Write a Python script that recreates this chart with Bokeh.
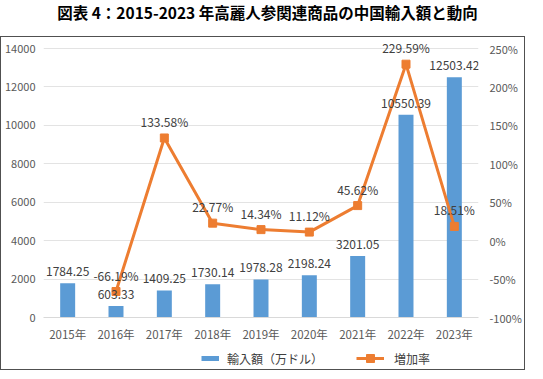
from bokeh.plotting import figure
from bokeh.layouts import column
from bokeh.models import (Range1d, FactorRange, LinearAxis, FixedTicker, PrintfTickFormatter,
                          ColumnDataSource, Legend, LegendItem, Div)
from bokeh.core.properties import value
from bokeh.embed import file_html
from bokeh.resources import INLINE

years = ["2015年", "2016年", "2017年", "2018年", "2019年", "2020年", "2021年", "2022年", "2023年"]
imports = [1784.25, 603.33, 1409.25, 1730.14, 1978.28, 2198.24, 3201.05, 10550.39, 12503.42]
rate_years = years[1:]
rates = [-66.19, 133.58, 22.77, 14.34, 11.12, 45.62, 229.59, 18.51]
left_ticks = [0, 2000, 4000, 6000, 8000, 10000, 12000, 14000]
right_ticks = [-100, -50, 0, 50, 100, 150, 200, 250]
title_text = "図表 4：2015-2023 年高麗人参関連商品の中国輸入額と動向"
legend_labels = ["輸入額（万ドル）", "増加率"]

FONT = "Noto Sans CJK JP"
BLUE = "#5B9BD5"
ORANGE = "#ED7D31"

W, H1, H2 = 523, 308, 24
head_px = 8
left_end = 14000 + head_px * 14000 / 269
right_end = 250 + head_px * 350 / 269

p = figure(width=W, height=H1, x_range=FactorRange(*years), y_range=Range1d(0, left_end),
           output_backend="svg", toolbar_location=None,
           min_border_left=42, min_border_right=46, min_border_top=3, min_border_bottom=28)
p.outline_line_color = None
p.background_fill_color = "white"
p.extra_y_ranges = {"rate": Range1d(-100, right_end)}

bar_src = ColumnDataSource(dict(x=years, top=imports, lab=[f"{v:.2f}" for v in imports]))
line_src = ColumnDataSource(dict(x=rate_years, y=rates, lab=[f"{v:.2f}%" for v in rates]))

p.vbar(x="x", top="top", width=0.31, source=bar_src, color=BLUE, line_color=None)
p.line(x="x", y="y", source=line_src, y_range_name="rate", color=ORANGE, line_width=3)
p.scatter(x="x", y="y", source=line_src, y_range_name="rate", marker="square",
          size=8, color=ORANGE)

p.text(x="x", y="top", text="lab", source=bar_src, text_font=value(FONT), text_font_size="12px",
       text_color="#404040", text_align="center", text_baseline="bottom", y_offset=-7)
p.text(x="x", y="y", text="lab", source=line_src, y_range_name="rate", text_font=value(FONT),
       text_font_size="12px", text_color="#404040", text_align="center", text_baseline="bottom",
       y_offset=-8)

p.yaxis.ticker = FixedTicker(ticks=left_ticks)
ax_r = LinearAxis(y_range_name="rate", ticker=FixedTicker(ticks=right_ticks),
                  formatter=PrintfTickFormatter(format="%d%%"))
p.add_layout(ax_r, "right")
for ax in [p.yaxis[0], ax_r, p.xaxis[0]]:
    ax.major_tick_line_color = None
    ax.minor_tick_line_color = None
    ax.major_tick_out = 0
    ax.major_tick_in = 0
    ax.minor_tick_out = 0
    ax.minor_tick_in = 0
    ax.major_label_text_font = FONT
    ax.major_label_text_color = "#595959"
for ax in [p.yaxis[0], ax_r]:
    ax.axis_line_color = None
    ax.major_label_text_font_size = "11px"
p.yaxis[0].major_label_standoff = 8
ax_r.major_label_standoff = 11

p.xaxis.axis_line_color = "#d9d9d9"
p.xaxis.major_label_text_font_size = "11.5px"
p.xaxis.major_label_standoff = 8

p.xgrid.grid_line_color = None
p.ygrid.grid_line_color = "#e3e3e3"
p.ygrid.ticker = FixedTicker(ticks=left_ticks)

# legend strip below the chart
lg = figure(width=W, height=H2, x_range=Range1d(0, 1), y_range=Range1d(0, 1),
            output_backend="svg", toolbar_location=None, min_border=0)
lg.axis.visible = False
lg.grid.visible = False
lg.outline_line_color = None
nan_src = ColumnDataSource(dict(x=[float("nan")], y=[float("nan")]))
k_bar = lg.line(x="x", y="y", source=nan_src, color=BLUE, line_width=5, line_cap="butt")
k_line = lg.line(x="x", y="y", source=nan_src, color=ORANGE, line_width=3)
k_pt = lg.scatter(x="x", y="y", source=nan_src, marker="square", size=8, color=ORANGE)

common = dict(orientation="horizontal", glyph_height=20, label_height=20, padding=0, margin=0,
              border_line_color=None, background_fill_alpha=0, label_text_font=FONT,
              label_text_font_size="12px", label_text_color="#404040")
leg1 = Legend(items=[LegendItem(label=legend_labels[0], renderers=[k_bar])],
              location=(158, 1), glyph_width=18, label_standoff=8, **common)
leg2 = Legend(items=[LegendItem(label=legend_labels[1], renderers=[k_line, k_pt])],
              location=(313, 1), glyph_width=28, label_standoff=10, **common)
lg.add_layout(leg1, "center")
lg.add_layout(leg2, "center")

title = Div(text=title_text, width=525, height=26,
            styles={"text-align": "center", "font-size": "15.5px", "font-weight": "bold",
                    "font-family": FONT, "line-height": "15px", "color": "black"})

boxed = column(p, lg, spacing=0, styles={"border": "1px solid #505050"})
layout = column(title, boxed, spacing=0)
open("out.html", "w").write(file_html(layout, INLINE))
